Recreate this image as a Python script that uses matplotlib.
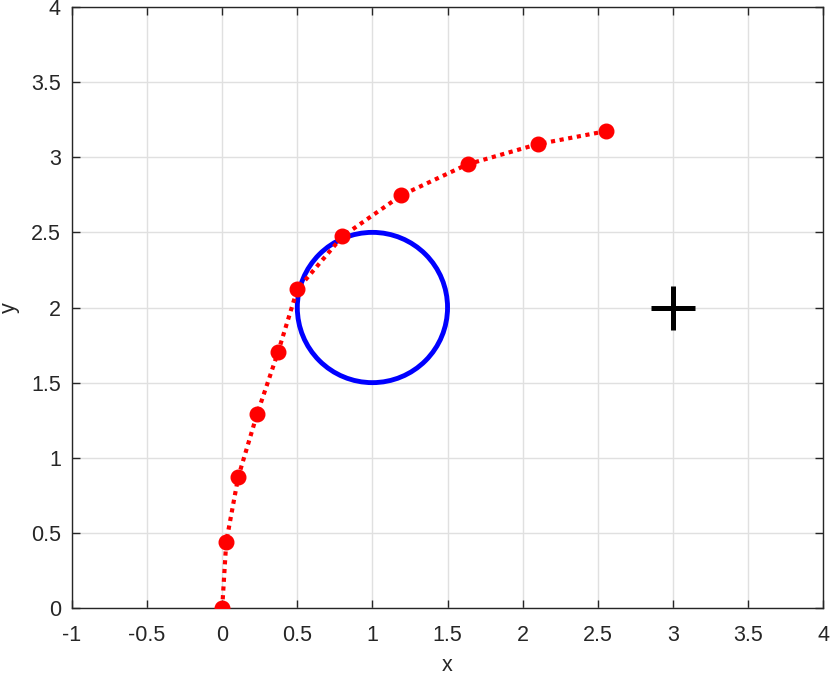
import matplotlib.pyplot as plt
from matplotlib.patches import Circle

# path points
path_x = [0, 0.027, 0.107, 0.233, 0.373, 0.5, 0.8, 1.193, 1.633, 2.1, 2.553]
path_y = [0, 0.44, 0.873, 1.293, 1.707, 2.12, 2.473, 2.747, 2.953, 3.087, 3.173]

# obstacle and goal
obs_center = (1, 2)
obs_radius = 0.5
goal = (3, 2)

x_ticks = [-1, -0.5, 0, 0.5, 1, 1.5, 2, 2.5, 3, 3.5, 4]
y_ticks = [0, 0.5, 1, 1.5, 2, 2.5, 3, 3.5, 4]

plt.rcParams['font.family'] = ['Liberation Sans', 'DejaVu Sans']
axcol = '#262626'

fig = plt.figure(figsize=(8.3, 6.78), dpi=100)
ax = fig.add_axes([0.0867, 0.1032, 0.905, 0.8865])

ax.plot(path_x, path_y, color='red', linestyle=(0, (1, 1.1)), linewidth=3,
        marker='o', markersize=10.5, zorder=3)
ax.add_patch(Circle(obs_center, obs_radius, fill=False, edgecolor='#0000ff',
                    linewidth=3.5, zorder=2))
ax.plot(goal[0], goal[1], marker='+', color='black', markersize=31,
        markeredgewidth=3.6, zorder=3)

ax.set_xlim(-1, 4)
ax.set_ylim(0, 4)
ax.set_xticks(x_ticks)
ax.set_xticklabels([f'{v:g}' for v in x_ticks])
ax.set_yticks(y_ticks)
ax.set_yticklabels([f'{v:g}' for v in y_ticks])
ax.grid(True, color='#e0e0e0', linewidth=1)
ax.set_axisbelow(True)
ax.tick_params(direction='in', length=6, width=1, colors=axcol, labelsize=15.5,
               top=True, right=True)
ax.tick_params(axis='x', pad=12)
ax.tick_params(axis='y', pad=8)
for s in ax.spines.values():
    s.set_color(axcol)
    s.set_linewidth(1)

ax.set_xlabel('x', fontsize=15.5, color=axcol, labelpad=7)
ax.set_ylabel('y', fontsize=15.5, color=axcol, labelpad=8)

fig.savefig('out.png', dpi=100)
